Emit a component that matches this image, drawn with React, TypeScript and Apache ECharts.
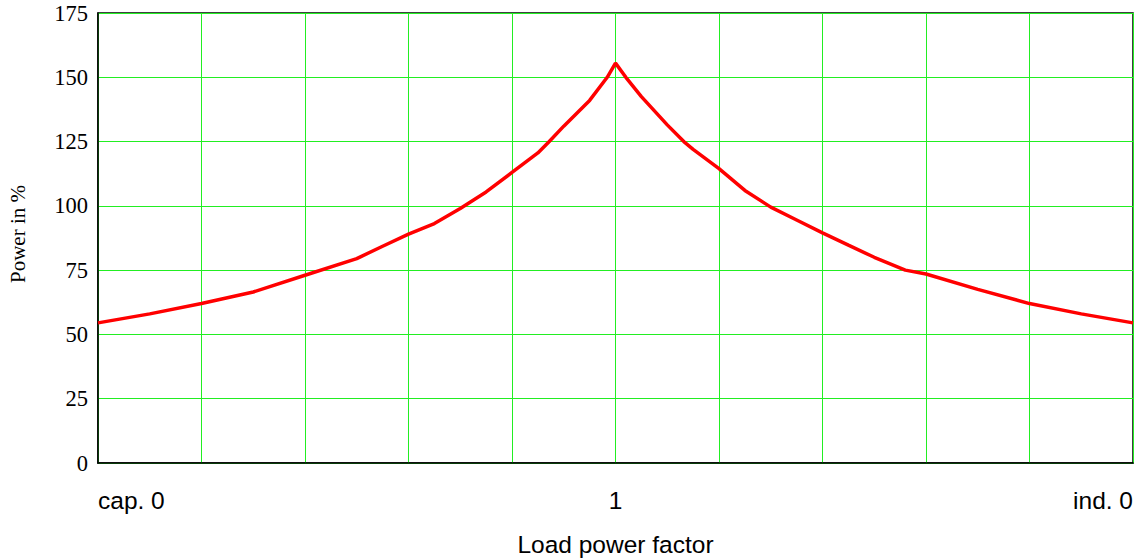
import React, { useEffect, useRef } from "react";
import * as echarts from "echarts";

// x position in % of the load power factor span (0 = cap. 0, 50 = 1, 100 = ind. 0)
const xPositions = [0, 5, 10, 15, 20, 25, 27.5, 30, 32.5, 35, 37.5, 40, 42.5, 43.6, 45, 47.5, 49.2, 50, 51, 52.5, 55, 56.6, 57.5, 60, 62.5, 65, 67.5, 70, 72.5, 75, 78, 80, 85, 90, 95, 100];
const powerValues = [54.5, 58, 62, 66.5, 73, 79.5, 84.3, 89, 93.1, 99, 105.4, 113, 120.6, 125, 131, 141, 150, 155.5, 150, 142.5, 131.5, 125, 122, 114.5, 106, 99.5, 94.5, 89.5, 84.7, 80, 75, 73.5, 67.5, 62, 58, 54.5];
const xTickLabels: Record<number, string> = { 0: "cap. 0", 50: "1", 100: "ind. 0" };
const yTicks = [0, 25, 50, 75, 100, 125, 150, 175];

export default function App() {
  const ref = useRef<HTMLDivElement>(null);
  useEffect(() => {
    if (!ref.current) return;
    const chart = echarts.init(ref.current, null, { renderer: "svg" });
    const gridColor = "#22ee22";
    chart.setOption({
      animation: false,
      backgroundColor: "#ffffff",
      grid: {
        left: 98,
        right: 9,
        top: 13,
        bottom: 97,
        outerBoundsMode: "none",
        containLabel: false,
        show: true,
        borderColor: "#000000",
        borderWidth: 1.5,
        backgroundColor: "transparent",
      },
      xAxis: {
        type: "value",
        min: 0,
        max: 100,
        interval: 10,
        name: "Load power factor",
        nameLocation: "middle",
        nameGap: 69,
        nameTextStyle: { fontFamily: "Liberation Sans", fontSize: 24.5, color: "#000" },
        axisLine: { show: true, onZero: false, lineStyle: { color: "#000", width: 1.5 } },
        axisTick: { show: false },
        splitLine: { show: true, lineStyle: { color: gridColor, width: 1 } },
        axisLabel: {
          fontFamily: "Liberation Sans",
          fontSize: 24.5,
          color: "#000",
          margin: 25,
          alignMinLabel: "left",
          alignMaxLabel: "right",
          formatter: (v: number) => xTickLabels[v] ?? "",
        },
      },
      yAxis: {
        type: "value",
        min: yTicks[0],
        max: yTicks[yTicks.length - 1],
        interval: 25,
        name: "Power in %",
        nameLocation: "middle",
        nameGap: 70,
        nameTextStyle: { fontFamily: "Liberation Serif", fontSize: 21, color: "#000", padding: [0, 0, 0, 8] },
        axisLine: { show: true, lineStyle: { color: "#000", width: 1.5 } },
        axisTick: { show: false },
        splitLine: { show: true, lineStyle: { color: gridColor, width: 1 } },
        axisLabel: {
          fontFamily: "Liberation Serif",
          fontSize: 22.5,
          color: "#000",
          margin: 10,
        },
      },
      series: [
        {
          type: "line",
          data: xPositions.map((x, i) => [x, powerValues[i]]),
          showSymbol: false,
          smooth: false,
          lineStyle: { color: "#ff0000", width: 3.5 },
          z: 5,
        },
      ],
    });
    return () => chart.dispose();
  }, []);
  return <div ref={ref} style={{ width: 1142, height: 560, position: "absolute", left: 0, top: 0 }} />;
}
